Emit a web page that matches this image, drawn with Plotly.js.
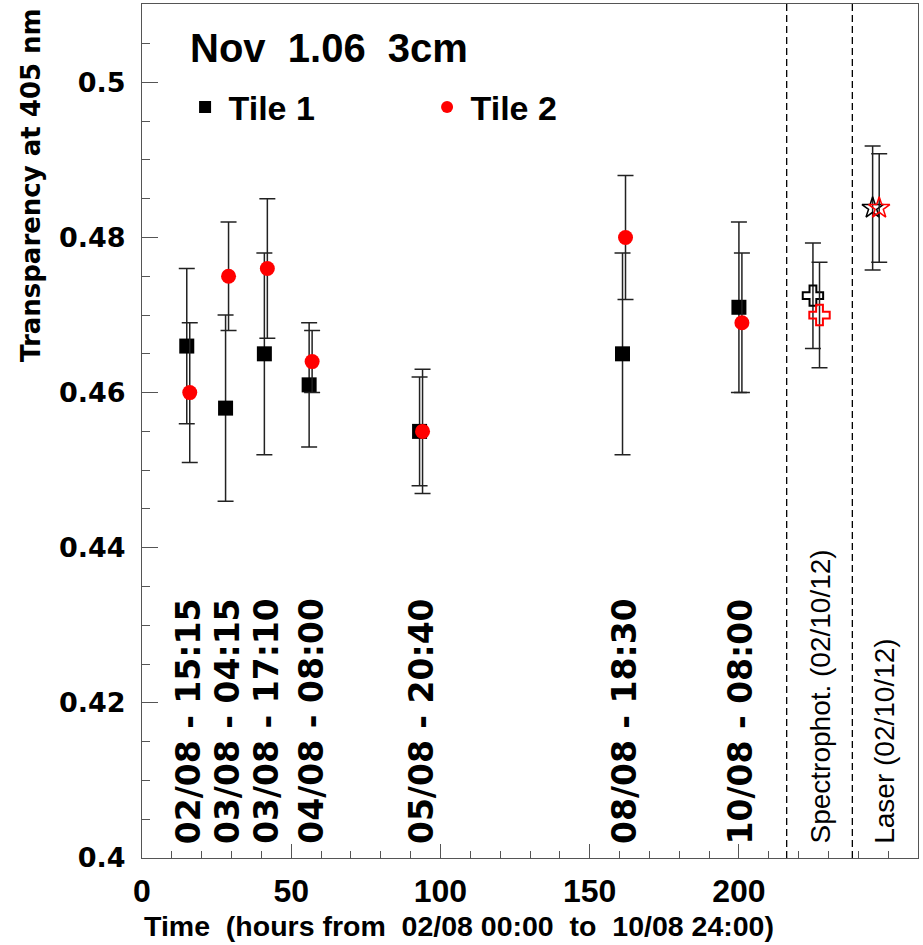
<!DOCTYPE html>
<html>
<head>
<meta charset="utf-8">
<script src="https://cdn.plot.ly/plotly-3.0.1.min.js"></script>
<style>html,body{margin:0;padding:0;background:#fff;}</style>
</head>
<body>
<div id="chart" style="width:923px;height:945px;"></div>
<script>
// ---- data ----
const hoursTile1 = [15, 28, 41, 56, 93, 161, 200];
const transTile1 = [0.466, 0.458, 0.465, 0.461, 0.455, 0.465, 0.471];
const errTile1   = [0.010, 0.012, 0.013, 0.008, 0.007, 0.013, 0.011];

const hoursTile2 = [16, 29, 42, 57, 94, 162, 201];
const transTile2 = [0.460, 0.475, 0.476, 0.464, 0.455, 0.480, 0.469];
const errTile2   = [0.009, 0.007, 0.009, 0.004, 0.008, 0.008, 0.009];

const spectroX   = [224.8, 227.0];
const spectroY   = [0.4725, 0.4700];
const spectroErr = [0.0068, 0.0068];

const laserX   = [244.8, 247.0];
const laserY   = [0.4838, 0.4838];
const laserErr = [0.0080, 0.0070];

const dateLabels = ["02/08 - 15:15", "03/08 - 04:15", "03/08 - 17:10", "04/08 - 08:00",
                    "05/08 - 20:40", "08/08 - 18:30", "10/08 - 08:00"];
const dateLabelHours = [15.5, 28.5, 41.5, 56.5, 93.5, 161.5, 200.5];

const separatorHours = [216, 238];
const sectionLabels = ["Spectrophot. (02/10/12)", "Laser (02/10/12)"];
const sectionLabelHours = [227, 248.7];

// ---- styling ----
const HFONT = "Liberation Sans, Arial, sans-serif";
const WFONT = "DejaVu Sans, Verdana, sans-serif";
const errStyle = (arr) => ({type: 'data', array: arr, visible: true, color: '#222', thickness: 1.5, width: 8});

const traces = [
  {x: hoursTile1, y: transTile1, type: 'scatter', mode: 'markers', name: 'Tile 1',
   marker: {symbol: 'square', size: 15, color: '#000'}, error_y: errStyle(errTile1)},
  {x: hoursTile2, y: transTile2, type: 'scatter', mode: 'markers', name: 'Tile 2',
   marker: {symbol: 'circle', size: 15, color: '#ff0000'}, error_y: errStyle(errTile2)},
  {x: [spectroX[0]], y: [spectroY[0]], type: 'scatter', mode: 'markers', showlegend: false,
   marker: {symbol: 'cross-open', size: 17, color: '#000', line: {width: 2, color: '#000'}},
   error_y: errStyle([spectroErr[0]])},
  {x: [spectroX[1]], y: [spectroY[1]], type: 'scatter', mode: 'markers', showlegend: false,
   marker: {symbol: 'cross-open', size: 17, color: '#ff0000', line: {width: 2, color: '#ff0000'}},
   error_y: errStyle([spectroErr[1]])},
  {x: [laserX[0]], y: [laserY[0]], type: 'scatter', mode: 'markers', showlegend: false,
   marker: {symbol: 'star-open', size: 16, color: '#000', line: {width: 1.5, color: '#000'}},
   error_y: errStyle([laserErr[0]])},
  {x: [laserX[1]], y: [laserY[1]], type: 'scatter', mode: 'markers', showlegend: false,
   marker: {symbol: 'star-open', size: 16, color: '#ff0000', line: {width: 1.5, color: '#ff0000'}},
   error_y: errStyle([laserErr[1]])}
];

const annotations = [];
dateLabels.forEach((t, i) => annotations.push({
  text: t, x: dateLabelHours[i], xref: 'x', y: 0, yref: 'paper', yshift: 12,
  textangle: -90, xanchor: 'center', yanchor: 'bottom', showarrow: false,
  font: {family: WFONT, size: 33, color: '#000', weight: 'bold'}
}));
sectionLabels.forEach((t, i) => annotations.push({
  text: t, x: sectionLabelHours[i], xref: 'x', y: 0, yref: 'paper', yshift: 12,
  textangle: -90, xanchor: 'center', yanchor: 'bottom', showarrow: false,
  font: {family: HFONT, size: 28, color: '#000'}
}));
annotations.push({
  text: 'Time\u00a0 (hours from\u00a0 02/08 00:00\u00a0 to\u00a0 10/08 24:00)',
  x: 0, xref: 'paper', xanchor: 'left', y: 0, yref: 'paper', yanchor: 'top', yshift: -50,
  showarrow: false, font: {family: HFONT, size: 28.5, color: '#000', weight: 'bold'}
});
annotations.push({
  text: 'Transparency at 405 nm', textangle: -90,
  x: 0, xref: 'paper', xshift: -111, xanchor: 'center', y: 1, yref: 'paper', yanchor: 'top', yshift: -2,
  showarrow: false, font: {family: WFONT, size: 26, color: '#000', weight: 'bold'}
});

const shapes = separatorHours.map(h => ({
  type: 'line', xref: 'x', yref: 'paper', x0: h, x1: h, y0: 0, y1: 1,
  line: {color: '#000', width: 1.3, dash: '7px,4px'}
}));

const layout = {
  width: 923, height: 945,
  margin: {l: 142, r: 5, t: 4, b: 87},
  paper_bgcolor: '#fff', plot_bgcolor: '#fff',
  title: {text: 'Nov\u00a0 1.06\u00a0 3cm', xref: 'container', x: 190/923, xanchor: 'left',
          yref: 'container', y: 1 - 48/945, yanchor: 'middle',
          font: {family: HFONT, size: 40, color: '#000', weight: 'bold'}},
  showlegend: true,
  legend: {orientation: 'h', x: 0.051, xanchor: 'left', y: 0.913, yanchor: 'top',
           itemwidth: 37, entrywidth: 190, entrywidthmode: 'pixels', itemsizing: 'constant',
           bgcolor: 'rgba(0,0,0,0)', font: {family: HFONT, size: 34, color: '#000', weight: 'bold'}},
  xaxis: {range: [0, 260], tickvals: [0, 50, 100, 150, 200], ticks: 'inside', ticklen: 14,
          tickcolor: '#555', showline: true, linecolor: '#555', linewidth: 1, mirror: true,
          showgrid: false, zeroline: false, ticklabelstandoff: 5,
          tickfont: {family: HFONT, size: 32, color: '#000', weight: 'bold'},
          minor: {dtick: 10, ticks: 'inside', ticklen: 7, tickcolor: '#555', showgrid: false}},
  yaxis: {range: [0.4, 0.5101], dtick: 0.02, tick0: 0.4, ticks: 'inside', ticklen: 16,
          tickcolor: '#555', showline: true, linecolor: '#555', linewidth: 1, mirror: true,
          showgrid: false, zeroline: false, ticklabelstandoff: 10,
          tickfont: {family: WFONT, size: 27, color: '#000', weight: 'bold'},
          minor: {dtick: 0.005, ticks: 'inside', ticklen: 8, tickcolor: '#555', showgrid: false}},
  annotations: annotations,
  shapes: shapes
};

Plotly.newPlot('chart', traces, layout, {displayModeBar: false, staticPlot: true});
</script>
</body>
</html>
